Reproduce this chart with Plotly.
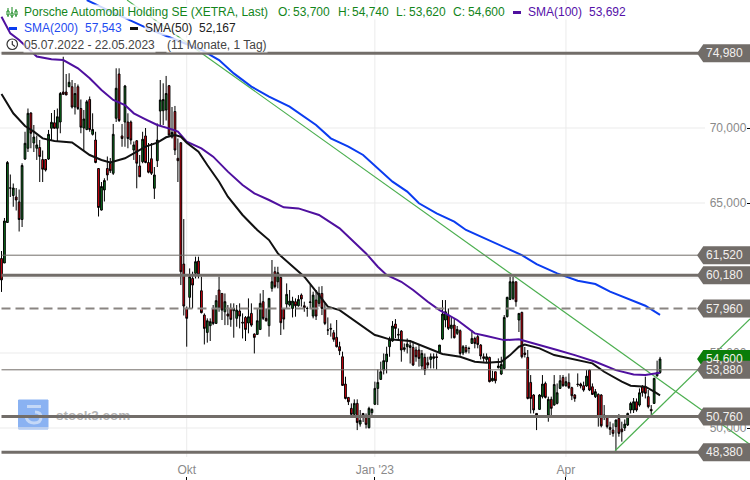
import plotly.graph_objects as go

W, H = 750, 480
opens = [61.3,61.0,63.7,66.0,65.5,65.4,65.07,63.9,67.93,68.65,71.0,69.0,68.65,68.7,67.9,67.9,67.93,69.98,70.35,69.98,
70.4,72.4,72.4,72.75,72.75,71.4,72.75,71.3,70.0,69.9,71.9,69.58,69.2,67.3,64.53,65.87,67.3,67.65,66.98,70.65,
73.6,69.47,70.4,70.4,70.4,68.53,69.15,67.47,67.75,69.47,67.7,67.95,65.98,67.82,71.13,71.15,71.2,72.82,69.4,71.1,
67.98,69.02,60.93,57.97,58.71,59.97,60.31,61.13,59.15,57.53,56.37,56.82,57.97,56.97,59.2,58.97,57.75,57.6,57.97,57.82,
57.31,57.8,57.05,57.37,57.0,57.64,56.26,56.24,56.57,58.42,57.31,56.82,59.31,60.42,59.75,60.04,57.93,58.26,58.2,57.97,
58.42,58.15,58.86,58.15,57.97,58.37,57.46,58.53,58.31,58.97,57.97,56.53,56.64,56.35,56.04,55.42,54.75,52.93,52.04,51.31,
50.91,51.64,50.26,50.97,50.75,50.02,51.02,51.58,52.64,53.24,53.86,54.42,55.42,55.8,56.93,56.24,56.46,55.24,55.42,55.37,
55.37,55.2,55.2,54.13,54.71,54.35,54.57,54.64,54.75,55.04,55.93,57.2,57.53,56.64,56.86,56.31,56.49,55.0,55.37,55.31,
55.64,55.97,56.09,55.53,54.75,54.57,54.71,53.15,53.75,54.02,53.6,53.97,57.42,58.57,58.64,59.75,57.2,57.71,55.0,54.71,
53.04,52.2,50.97,51.24,52.09,52.97,50.86,51.91,51.53,51.64,52.64,53.37,52.82,53.02,52.69,52.2,52.93,52.93,52.82,52.8,
53.86,52.75,52.09,52.24,52.2,50.86,50.75,50.04,49.86,50.09,50.64,49.93,50.0,50.2,51.2,51.2,51.75,51.53,52.75,52.75,
52.09,51.24,51.64,53.48,53.7]
highs = [61.8,64.0,67.8,66.9,66.3,66.0,65.9,67.65,69.75,71.3,71.05,70.2,69.5,69.2,68.5,67.9,69.87,71.0,71.2,71.3,
72.4,74.75,73.6,73.65,73.2,73.0,72.9,71.9,71.2,71.87,72.1,70.98,69.75,67.3,66.4,66.65,68.1,68.0,70.27,73.98,
73.98,70.27,72.87,70.98,70.5,69.1,69.2,68.2,69.75,70.0,69.0,69.0,67.4,70.3,73.2,72.98,73.47,72.87,71.4,71.47,
69.3,69.02,63.93,58.1,60.64,60.42,61.42,61.42,60.09,57.64,57.31,57.31,58.2,58.86,60.09,58.97,58.97,58.2,58.31,58.31,
58.2,58.31,57.64,57.46,58.64,58.31,56.31,57.97,58.97,59.2,57.97,58.64,61.2,60.75,60.75,60.09,57.97,59.64,59.2,58.75,
58.64,58.86,58.97,58.42,58.09,59.53,59.09,59.2,59.42,59.46,58.31,57.37,56.97,56.53,57.2,55.75,55.09,53.42,52.04,51.64,
51.91,51.91,51.2,51.0,50.97,51.42,51.31,53.09,53.9,54.42,54.97,55.42,56.09,57.13,57.26,56.64,56.53,55.64,55.97,55.86,
55.75,55.42,55.53,55.2,54.97,54.75,54.97,54.97,54.97,55.53,58.53,58.53,57.97,57.42,57.31,56.8,56.57,55.53,55.53,55.42,
56.53,56.09,56.2,55.6,54.97,54.97,54.75,53.82,53.75,54.64,54.75,57.53,58.75,60.09,60.09,59.75,57.64,57.75,55.4,55.2,
53.53,52.26,51.0,52.26,53.53,53.09,52.09,52.09,53.53,52.97,53.53,53.53,53.42,53.64,52.75,52.26,53.64,53.02,53.09,53.86,
53.9,52.97,52.6,52.31,52.26,51.53,50.82,50.42,50.31,50.57,50.93,50.42,50.57,51.02,51.75,52.0,51.97,52.64,52.86,53.42,
52.53,51.53,53.35,54.49,54.74]
lows = [59.07,61.0,63.7,65.4,64.75,64.5,63.1,63.4,67.87,68.4,68.65,68.4,67.87,66.4,66.4,67.1,67.87,69.2,69.98,69.1,
69.65,72.2,72.2,72.75,71.3,70.9,71.2,69.65,68.5,69.85,69.75,69.5,67.65,64.1,64.5,65.1,66.5,67.0,66.87,70.4,
70.4,68.75,68.75,68.65,68.9,67.87,65.98,66.75,67.65,67.65,66.98,66.87,65.27,67.4,70.2,70.2,70.5,69.4,69.3,68.2,
66.4,59.53,57.5,55.42,57.97,57.97,59.97,59.97,57.64,55.57,55.69,55.8,56.86,56.97,57.75,57.2,56.86,56.86,56.75,56.02,
56.75,56.64,55.97,55.8,56.31,56.75,54.97,56.2,56.53,57.2,57.09,56.09,59.09,59.31,59.31,56.2,56.57,57.97,58.09,57.37,
57.42,58.09,58.09,57.75,57.42,57.97,57.31,57.2,58.09,57.53,56.86,56.2,56.09,55.75,55.37,54.86,52.8,51.91,51.53,50.75,
50.75,49.86,50.09,50.4,49.97,49.97,50.75,51.53,51.53,53.2,53.57,53.64,54.75,55.75,56.0,55.86,54.42,55.09,54.97,54.3,
54.13,54.42,54.09,53.9,53.53,53.97,53.97,53.97,53.9,54.97,55.86,56.71,56.53,55.97,55.97,56.2,54.82,54.86,54.97,54.97,
55.64,55.31,55.31,54.57,54.42,54.35,53.04,53.09,52.97,53.97,53.53,53.93,57.37,58.53,58.53,58.09,56.4,54.64,54.7,51.91,
50.97,50.97,49.86,51.2,51.97,51.97,50.42,50.86,51.48,51.57,52.6,52.75,52.75,52.6,51.86,51.75,52.75,52.64,52.42,52.75,
52.46,52.2,52.0,50.09,50.04,50.53,49.97,49.53,49.42,48.49,49.42,49.09,49.8,50.13,50.97,51.0,51.09,51.42,52.09,51.97,
51.31,50.86,51.6,53.42,53.62]
closes = [59.87,63.8,67.7,66.0,66.0,65.2,63.9,67.5,68.98,70.98,69.65,69.4,68.87,68.1,67.25,67.2,69.58,70.38,69.98,70.75,
72.3,72.25,72.2,73.05,71.4,72.3,71.3,70.05,70.6,71.75,69.9,69.9,67.7,64.7,66.1,66.5,66.87,67.15,69.58,72.65,
70.5,69.3,72.8,69.3,69.2,68.87,67.65,66.75,69.25,67.7,67.05,66.98,66.87,69.2,71.87,71.9,72.3,69.53,69.7,68.53,
67.82,60.42,58.13,57.31,60.09,59.53,61.09,60.2,57.69,56.64,57.15,57.09,56.97,58.49,57.97,57.86,58.42,57.46,57.24,57.97,
57.86,57.46,57.0,56.57,57.42,56.86,56.04,57.15,58.31,57.31,57.15,58.64,59.75,59.42,60.35,57.02,57.26,58.91,58.46,58.46,
58.15,58.57,58.6,58.02,57.97,58.4,58.86,57.46,58.97,57.97,56.97,56.53,56.6,55.91,55.42,55.15,52.84,51.97,51.75,50.91,
51.64,50.37,50.51,50.85,50.24,51.31,51.24,52.64,53.04,53.75,54.49,54.93,55.91,56.8,56.64,56.2,55.2,55.35,55.6,55.49,
54.2,54.75,54.64,54.97,53.86,54.2,54.75,54.75,54.7,55.53,57.6,57.75,56.64,56.86,56.02,56.57,54.97,55.42,55.09,55.3,
55.97,55.64,55.57,54.8,54.64,54.75,53.09,53.31,53.15,54.13,54.24,57.37,58.71,59.75,59.75,58.42,57.64,54.75,54.9,51.97,
51.97,51.2,50.86,52.2,52.93,52.04,51.91,51.31,52.9,52.35,53.15,52.82,53.09,52.69,52.15,51.97,52.9,52.8,52.53,53.46,
52.53,52.24,52.42,50.75,50.15,50.75,50.09,49.91,49.64,50.53,49.64,49.75,50.26,50.97,51.64,51.75,51.2,52.35,52.35,52.31,
51.42,51.15,53.31,53.68,54.6]
candle_index = list(range(len(opens)))

sma50_i = [0,2,4,8,11,14,18,24,27,30,34,37,42,45,49,53,56,59,61,63,67,70,74,77,82,87,91,94,101,103,108,111,115,119,123,127,
           128,132,139,145,150,156,161,165,170,173,176,178,183,188,195,201,205,211,214,219,222,224]
sma50_v = [72.27,71.64,70.98,70.13,69.76,69.31,69.13,69.04,68.64,68.2,67.87,67.71,67.98,68.31,68.76,69.02,69.38,69.53,69.42,69.02,
           68.42,67.53,66.42,65.42,64.2,63.2,62.53,61.64,60.42,60.09,58.86,58.09,57.86,57.31,56.75,56.2,
           56.15,55.91,55.8,55.31,54.93,54.75,54.42,54.35,54.42,54.86,55.42,55.57,55.31,54.86,54.57,54.31,53.75,53.09,52.82,52.75,52.42,52.17]
sma100_i = [0,3,6,12,17,21,26,30,34,38,42,45,49,53,58,60,63,68,72,77,82,86,91,96,101,108,115,119,124,128,131,136,140,145,149,155,
            161,165,171,176,182,189,195,202,209,215,219,224]
sma100_v = [77.42,76.31,75.87,74.76,74.58,74.53,73.98,73.31,72.53,71.87,71.53,70.98,70.58,70.2,69.91,69.76,69.09,68.64,68.09,67.09,
            66.2,65.64,65.2,64.71,64.64,64.2,63.31,62.58,61.64,60.75,60.2,59.75,59.2,58.42,57.86,57.2,
            56.31,56.13,55.86,55.91,55.6,55.2,54.86,54.42,53.86,53.57,53.53,53.69]
sma200_i = [29,36,51,68,74,79,85,91,98,102,107,112,118,123,128,133,138,142,148,154,158,165,171,177,182,189,196,202,207,213,219,224]
sma200_v = [78.53,77.87,76.53,75.2,74.53,73.64,72.76,72.09,71.42,70.87,70.2,69.31,68.76,68.2,67.31,66.42,65.76,64.98,64.31,63.76,63.2,62.58,
            62.09,61.53,60.93,60.31,59.82,59.6,59.09,58.64,58.15,57.54]

trend_i = [[42.7, 254.6], [208.7, 254.6]]
trend_v = [[78.53, 48.9], [48.48, 57.27]]

thick_levels = [74.98, 60.18, 50.76, 48.38]
thin_levels = [61.52, 53.88]
dashed_levels = [57.96]
tag_levels = [74.98, 61.52, 60.18, 57.96, 54.60, 53.88, 50.76, 48.38]
tag_texts = ["74,980", "61,520", "60,180", "57,960", "54,600", "53,880", "50,760", "48,380"]

grid_levels = [50, 55, 60, 65, 70, 75]
y_ticks = [50, 55, 65, 70]
x_tick_i = [63, 127, 192]
x_tick_text = ["Okt", "Jan '23", "Apr"]

GREY = "#726d69"
GRID = "#ebebeb"
FONT = "Liberation Sans"

fig = go.Figure()
for tx, tv in zip(trend_i, trend_v):
    fig.add_trace(go.Scatter(x=tx, y=tv, mode="lines", line=dict(color="#4CAF50", width=1.2), hoverinfo="skip"))
fig.add_trace(go.Candlestick(
    x=candle_index, open=opens, high=highs, low=lows, close=closes,
    increasing=dict(line=dict(color="#000000", width=1), fillcolor="#0a7a1e"),
    decreasing=dict(line=dict(color="#000000", width=1), fillcolor="#f0000f"),
    whiskerwidth=0))
fig.add_trace(go.Scatter(x=sma200_i, y=sma200_v, mode="lines", line=dict(color="#0a3cf0", width=2)))
fig.add_trace(go.Scatter(x=sma100_i, y=sma100_v, mode="lines", line=dict(color="#4f109f", width=2)))
fig.add_trace(go.Scatter(x=sma50_i, y=sma50_v, mode="lines", line=dict(color="#111111", width=2)))

XR = [-0.51, 254.6]
YR = [46.533, 78.533]
def px(x): return x / W
def py(y): return 1 - y / H

shapes = []
grid_right = 239.3
tag_tip, tag_shoulder, tag_text_right, level_end = 236.6, 238.7, 252.9, 238.7
for v in grid_levels:
    shapes.append(dict(type="line", layer="below", xref="x", yref="y", x0=XR[0], x1=grid_right, y0=v, y1=v,
                       line=dict(color=GRID, width=1)))
for i in x_tick_i:
    shapes.append(dict(type="line", layer="below", xref="x", yref="paper", x0=i, x1=i, y0=py(457), y1=1,
                       line=dict(color=GRID, width=1)))
# watermark
shapes.append(dict(type="rect", layer="below", xref="paper", yref="paper", x0=px(18.5), x1=px(48), y0=py(429), y1=py(400),
                   fillcolor="#8ab2f2", line=dict(color="#8ab2f2", width=1)))
shapes.append(dict(type="path", layer="below", xref="paper", yref="paper",
                   path=f"M {px(27)} {py(406.5)} L {px(41)} {py(406.5)} M {px(35)} {py(412)} Q {px(41)} {py(412)} {px(41)} {py(417)} Q {px(41)} {py(423)} {px(34)} {py(423)} Q {px(28)} {py(423)} {px(26)} {py(417)}",
                   line=dict(color="#c4d8f7", width=3)))
for lv in thick_levels:
    shapes.append(dict(type="line", xref="x", yref="y", x0=0, x1=level_end, y0=lv, y1=lv, line=dict(color=GREY, width=3)))
for lv in thin_levels:
    shapes.append(dict(type="line", xref="x", yref="y", x0=0, x1=level_end, y0=lv, y1=lv, line=dict(color=GREY, width=1)))
for lv in dashed_levels:
    shapes.append(dict(type="line", xref="x", yref="y", x0=0, x1=level_end, y0=lv, y1=lv,
                       line=dict(color="#8a8582", width=2, dash="9px,5px")))
# price tags
for lv, tx in zip(tag_levels, tag_texts):
    col = "#0a7d0a" if tx == "54,600" else GREY
    path = (f"M {tag_tip} {lv} L {tag_shoulder} {lv+0.6} L {XR[1]} {lv+0.6} L {XR[1]} {lv-0.6} L {tag_shoulder} {lv-0.6} Z")
    shapes.append(dict(type="path", xref="x", yref="y", path=path, fillcolor=col, line=dict(width=0)))

ann = []
for lv, tx in zip(tag_levels, tag_texts):
    ann.append(dict(xref="x", yref="y", x=tag_text_right, y=lv, xanchor="right", yanchor="middle", text=tx, showarrow=False,
                    font=dict(family=FONT, size=12, color="#f2f0ee")))

GREEN_T, BLUE_T, DARK_T, PURP_T, GREY_T = "#13851b", "#1f4cf0", "#222222", "#5511a8", "#444444"
legend_rows = [
    (23, 12.5, "Porsche Automobil Holding SE (XETRA, Last)", GREEN_T),
    (277, 12.5, "O:", GREEN_T), (292, 12.5, "53,700", GREEN_T),
    (337, 12.5, "H:", GREEN_T), (351, 12.5, "54,740", GREEN_T),
    (395, 12.5, "L:", GREEN_T), (408, 12.5, "53,620", GREEN_T),
    (452, 12.5, "C:", GREEN_T), (467, 12.5, "54,600", GREEN_T),
    (527, 12.5, "SMA(100)", PURP_T), (588, 12.5, "53,692", PURP_T),
    (23, 28.5, "SMA(200)", BLUE_T), (84, 28.5, "57,543", BLUE_T),
    (144, 28.5, "SMA(50)", DARK_T), (198, 28.5, "52,167", DARK_T),
    (23, 44.5, "05.07.2022 - 22.05.2023", GREY_T), (166, 44.5, "(11 Monate, 1 Tag)", GREY_T),
]
for x, y, t, c in legend_rows:
    ann.append(dict(xref="paper", yref="paper", x=px(x), y=py(y), xanchor="left", yanchor="middle", text=t,
                    showarrow=False, bgcolor="rgba(255,255,255,0.8)", borderpad=0,
                    font=dict(family=FONT, size=12, color=c)))
ann.append(dict(xref="paper", yref="paper", x=px(54), y=py(415), xanchor="left", yanchor="middle", text="<b>stock3.com</b>",
                showarrow=False, opacity=0.55, font=dict(family=FONT, size=13.5, color="#777777")))

# legend icons
for x0, x1, y, c in [(513, 521, 12.5, "#4f109f"), (9, 17, 28.5, "#0a3cf0"), (130, 138, 28.5, "#111111")]:
    shapes.append(dict(type="rect", xref="paper", yref="paper", x0=px(x0), x1=px(x1), y0=py(y+1.5), y1=py(y-1.5),
                       fillcolor=c, line=dict(width=0)))
for x, b0, b1, w0, w1 in [(8, 11, 15, 8, 17), (12, 13, 16, 7, 18), (16, 11, 15, 9, 17)]:
    shapes.append(dict(type="line", xref="paper", yref="paper", x0=px(x), x1=px(x), y0=py(w1), y1=py(w0),
                       line=dict(color="#13851b", width=1)))
    shapes.append(dict(type="rect", xref="paper", yref="paper", x0=px(x-1), x1=px(x+1), y0=py(b1), y1=py(b0),
                       fillcolor="#ffffff", line=dict(color="#13851b", width=1)))
shapes.append(dict(type="circle", xref="paper", yref="paper", x0=px(7), x1=px(17.5), y0=py(49.5), y1=py(39),
                   line=dict(color="#333333", width=1.2)))
shapes.append(dict(type="path", xref="paper", yref="paper",
                   path=f"M {px(12.3)} {py(41)} L {px(12.3)} {py(44.5)} L {px(15)} {py(46.5)}",
                   line=dict(color="#333333", width=1.2)))

fig.update_layout(
    width=W, height=H, margin=dict(l=0, r=0, t=0, b=0), showlegend=False,
    paper_bgcolor="#ffffff", plot_bgcolor="#ffffff", separators=",.",
    font=dict(family=FONT, size=12, color="#8a8a8a"),
    shapes=shapes, annotations=ann, hovermode=False, boxgap=0.15,
    xaxis=dict(range=XR, rangeslider=dict(visible=False), tickmode="array", tickvals=x_tick_i, ticktext=x_tick_text,
               showgrid=False, zeroline=False, showline=False, ticks="inside", ticklen=3, tickcolor="#000000",
               ticklabelposition="inside", tickfont=dict(family=FONT, size=12, color="#8a8a8a")),
    yaxis=dict(range=YR, side="right", tickmode="array", tickvals=y_ticks, tickformat=".3f",
               showgrid=False, zeroline=False, showline=False, ticks="inside", ticklen=3, tickcolor="#000000",
               ticklabelposition="inside", tickfont=dict(family=FONT, size=12, color="#8a8a8a")),
)
fig.write_html("out.html", config=dict(displayModeBar=False), post_script="document.body.style.margin='0';")
